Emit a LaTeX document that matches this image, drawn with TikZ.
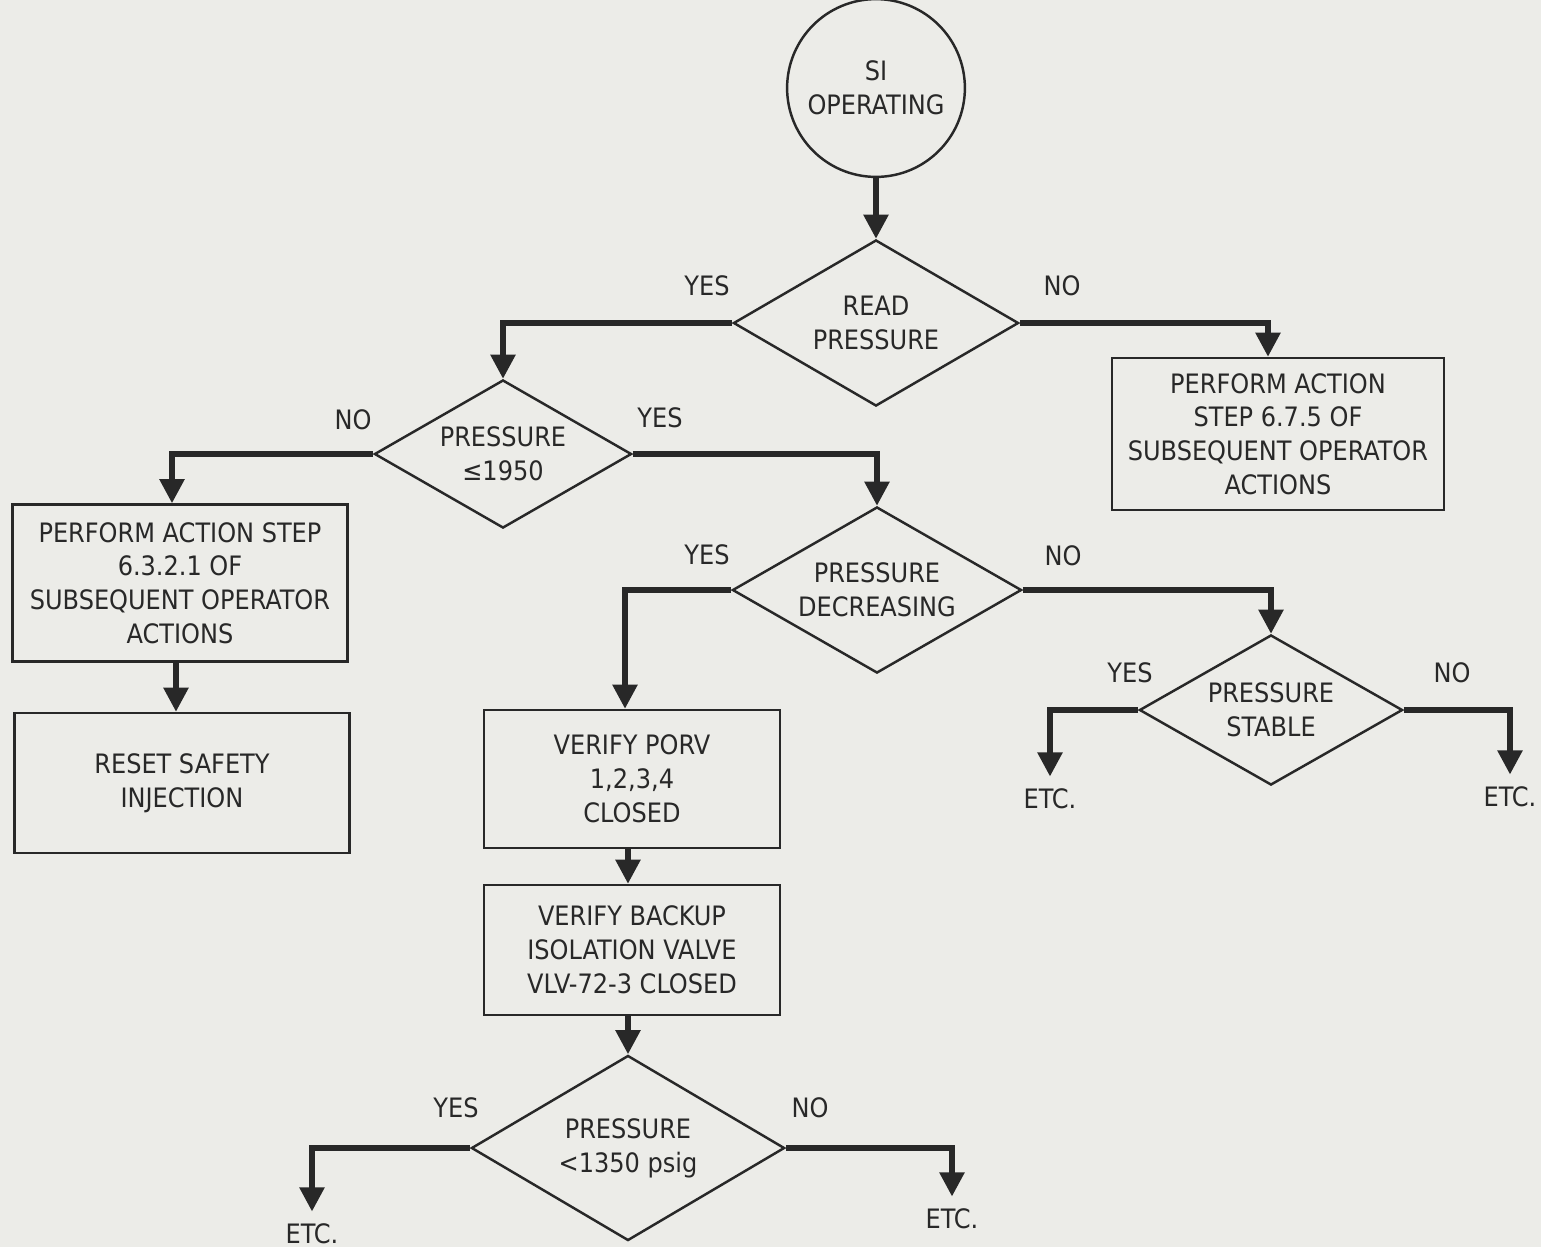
\documentclass[tikz,border=0pt]{standalone}
\usepackage{fontspec}
\setmainfont{DejaVu Sans Condensed}
\usetikzlibrary{shapes.geometric,arrows.meta}

\definecolor{paper}{RGB}{236,236,232}
\definecolor{ink}{RGB}{40,40,40}

\begin{document}
\begin{tikzpicture}[x=0.01cm,y=-0.01cm,
  font=\fontsize{7.6}{9.6}\selectfont, text=ink, draw=ink,
  decision/.style={draw, diamond, line width=0.7pt, inner xsep=-15pt,
    inner ysep=-7pt, shape aspect=1.7, minimum width=#1, align=center},
  actbox/.style={draw, rectangle, line width=0.7pt, align=center,
    minimum width=3.3cm, minimum height=1.45cm},
  flow/.style={draw=ink, line width=1.5pt,
    -{Triangle[length=2.4mm,width=2.4mm]}}]
  \fill[paper] (0,0) rectangle (1541,1247);
  \useasboundingbox (0,0) rectangle (1541,1247);

  \node[draw, circle, line width=0.7pt, minimum size=1.76cm, align=center]
    (start) at (876,88) {SI\\OPERATING};

  \node[decision=2.85cm, minimum height=1.66cm] (read) at (876,323) {READ\\PRESSURE};
  \node[actbox, minimum width=3.32cm, minimum height=1.52cm] (act675) at (1278,434)
    {PERFORM ACTION\\STEP 6.7.5 OF\\SUBSEQUENT OPERATOR\\ACTIONS};

  \node[decision=2.57cm, minimum height=1.48cm] (p1950) at (503,454) {PRESSURE\\≤1950};
  \node[actbox, minimum width=3.35cm, minimum height=1.57cm] (act6321) at (180,583)
    {PERFORM ACTION STEP\\6.3.2.1 OF\\SUBSEQUENT OPERATOR\\ACTIONS};
  \node[actbox, minimum width=3.35cm, minimum height=1.4cm] (reset) at (182,783)
    {RESET SAFETY\\INJECTION};

  \node[decision=2.89cm, minimum height=1.66cm] (pdec) at (877,590) {PRESSURE\\DECREASING};
  \node[decision=2.63cm, minimum height=1.5cm] (pstab) at (1271,710) {PRESSURE\\STABLE};

  \node[actbox, minimum width=2.96cm, minimum height=1.38cm] (porv) at (632,779)
    {VERIFY PORV\\1,2,3,4\\CLOSED};
  \node[actbox, minimum width=2.96cm, minimum height=1.3cm] (backup) at (632,950)
    {VERIFY BACKUP\\ISOLATION VALVE\\VLV-72-3 CLOSED};

  \node[decision=3.13cm, minimum height=1.85cm] (p1350) at (628,1148) {PRESSURE\\<1350 psig};

  \node (etcA) at (1050,799) {ETC.};
  \node (etcB) at (1510,797) {ETC.};
  \node (etcC) at (312,1234) {ETC.};
  \node (etcD) at (952,1219) {ETC.};

  \node (yesA) at (707,286) {YES};
  \node (noA) at (1062,286) {NO};
  \node (noB) at (353,420) {NO};
  \node (yesB) at (660,418) {YES};
  \node (yesC) at (707,555) {YES};
  \node (noC) at (1063,556) {NO};
  \node (yesD) at (1130,673) {YES};
  \node (noD) at (1452,673) {NO};
  \node (yesE) at (456,1108) {YES};
  \node (noE) at (810,1108) {NO};

  \draw[flow] (start) -- (read);
  \draw[flow] (read.west) -| (p1950.north);
  \draw[flow] (read.east) -| (act675.north -| 1268,0);
  \draw[flow] (p1950.west) -| (act6321.north -| 172,0);
  \draw[flow] (p1950.east) -| (pdec.north);
  \draw[flow] (act6321.south -| 176,0) -- (reset.north -| 176,0);
  \draw[flow] (pdec.west) -| (porv.north -| 625,0);
  \draw[flow] (pdec.east) -| (pstab.north);
  \draw[flow] (pstab.west) -| (etcA.north);
  \draw[flow] (pstab.east) -| (etcB.north);
  \draw[flow] (porv.south -| 628,0) -- (backup.north -| 628,0);
  \draw[flow] (backup.south -| 628,0) -- (p1350.north);
  \draw[flow] (p1350.west) -| (etcC.north);
  \draw[flow] (p1350.east) -| (etcD.north);
\end{tikzpicture}
\end{document}
